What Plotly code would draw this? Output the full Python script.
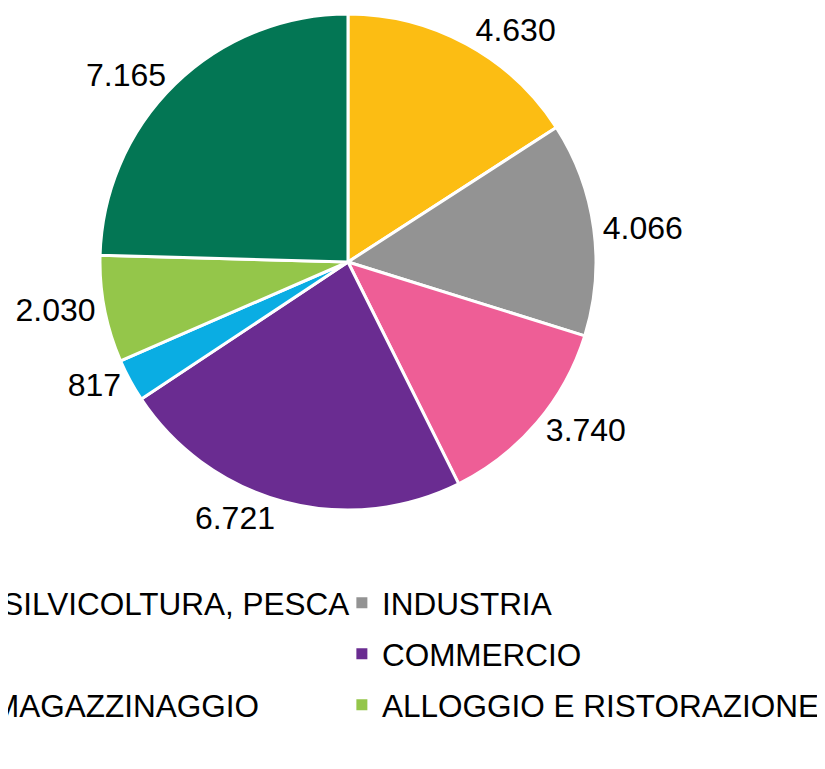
import plotly.graph_objects as go

labels = ["AGRICOLTURA, SILVICOLTURA, PESCA", "INDUSTRIA", "COSTRUZIONI", "COMMERCIO",
          "TRASPORTO E MAGAZZINAGGIO", "ALLOGGIO E RISTORAZIONE", "ALTRI SERVIZI"]
values = [4630, 4066, 3740, 6721, 817, 2030, 7165]
colors = ["#FCBD13", "#939393", "#EE5E96", "#6A2C91", "#0AADE3", "#94C64A", "#037654"]

FONT = "Liberation Sans, Arial, sans-serif"

fig = go.Figure()
fig.add_trace(go.Pie(
    labels=labels, values=values, sort=False, direction="clockwise", rotation=0,
    marker=dict(colors=colors, line=dict(color="white", width=3)),
    texttemplate="%{value:,}", textposition="outside",
    textfont=dict(family=FONT, size=32, color="black"),
    showlegend=False,
    domain=dict(x=[0.1115, 0.7127], y=[0.3472, 0.9922]),
))

# legend entries: left column (even indices) and right column (odd indices)
for i, (lab, col) in enumerate(zip(labels, colors)):
    fig.add_trace(go.Scatter(
        x=[None], y=[None], mode="markers", name=lab,
        marker=dict(symbol="square", size=11, color=col),
        legend="legend" if i % 2 == 0 else "legend2",
        legendgroup=lab, hoverinfo="skip",
    ))

legend_common = dict(
    orientation="v", yanchor="top", y=0.2617, xanchor="left",
    font=dict(family=FONT, size=31.5, color="black"),
    bgcolor="rgba(0,0,0,0)", tracegroupgap=7, itemclick=False,
)

fig.update_layout(
    width=825, height=769,
    margin=dict(l=0, r=0, t=0, b=0, autoexpand=False),
    paper_bgcolor="white", plot_bgcolor="white",
    separators=",.",
    xaxis=dict(visible=False), yaxis=dict(visible=False),
    legend=dict(x=-0.3497, **legend_common),
    legend2=dict(x=0.4047, **legend_common),
)

fig.write_html("out.html")
